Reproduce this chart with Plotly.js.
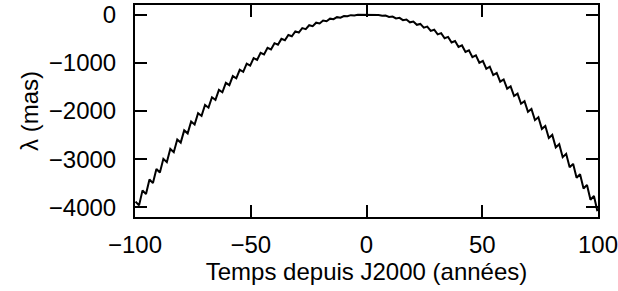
<!DOCTYPE html>
<html>
<head>
<meta charset="utf-8">
<script src="https://cdn.plot.ly/plotly-3.0.1.min.js"></script>
<style>
html,body{margin:0;padding:0;background:#fff;}
#chart{width:618px;height:291px;}
</style>
</head>
<body>
<div id="chart"></div>
<script>
// Time since J2000 (years)
const years = [-99.75, -98.25, -96.75, -95.25, -93.75, -92.25, -90.75, -89.25, -87.75, -86.25,
  -84.75, -83.25, -81.75, -80.25, -78.75, -77.25, -75.75, -74.25, -72.75, -71.25,
  -69.75, -68.25, -66.75, -65.25, -63.75, -62.25, -60.75, -59.25, -57.75, -56.25,
  -54.75, -53.25, -51.75, -50.25, -48.75, -47.25, -45.75, -44.25, -42.75, -41.25,
  -39.75, -38.25, -36.75, -35.25, -33.75, -32.25, -30.75, -29.25, -27.75, -26.25,
  -24.75, -23.25, -21.75, -20.25, -18.75, -17.25, -15.75, -14.25, -12.75, -11.25,
  -9.75, -8.25, -6.75, -5.25, -3.75, -2.25, -0.75,
  0.75, 2.25, 3.75, 5.25, 6.75, 8.25, 9.75, 11.25, 12.75, 14.25,
  15.75, 17.25, 18.75, 20.25, 21.75, 23.25, 24.75, 26.25, 27.75, 29.25,
  30.75, 32.25, 33.75, 35.25, 36.75, 38.25, 39.75, 41.25, 42.75, 44.25,
  45.75, 47.25, 48.75, 50.25, 51.75, 53.25, 54.75, 56.25, 57.75, 59.25,
  60.75, 62.25, 63.75, 65.25, 66.75, 68.25, 69.75, 71.25, 72.75, 74.25,
  75.75, 77.25, 78.75, 80.25, 81.75, 83.25, 84.75, 86.25, 87.75, 89.25,
  90.75, 92.25, 93.75, 95.25, 96.75, 98.25, 99.75];

// lambda (mas)
const lambdaMas = [-3880, -3959, -3647, -3724, -3422, -3496, -3203, -3275, -2992, -3062,
  -2788, -2855, -2591, -2656, -2402, -2464, -2219, -2279, -2044, -2102,
  -1876, -1931, -1715, -1768, -1562, -1612, -1415, -1463, -1276, -1322,
  -1144, -1187, -1019, -1060, -902, -940, -791, -827, -688, -722,
  -592, -623, -503, -532, -422, -448, -347, -371, -280, -302,
  -220, -239, -167, -184, -122, -136, -83, -95, -52, -62,
  -28, -35, -11, -16, -2, -4, 1,
  -1, 0, -9, -6, -25, -19, -48, -39, -78, -67,
  -115, -102, -159, -144, -211, -193, -270, -249, -336, -313,
  -409, -384, -489, -462, -577, -547, -672, -639, -774, -739,
  -883, -846, -999, -960, -1123, -1081, -1254, -1209, -1392, -1345,
  -1537, -1488, -1689, -1638, -1849, -1795, -2016, -1959, -2190, -2131,
  -2371, -2310, -2559, -2496, -2755, -2689, -2958, -2889, -3168, -3097,
  -3385, -3312, -3609, -3534, -3841, -3763, -4080];

const xTickVals = [-100, -50, 0, 50, 100];
const yTickVals = [0, -1000, -2000, -3000, -4000];

const fontFam = '"Liberation Sans", Arial, Helvetica, sans-serif';
const fontSize = 24;

const trace = {
  x: years,
  y: lambdaMas,
  type: 'scatter',
  mode: 'lines',
  line: {color: '#000', width: 2},
  hoverinfo: 'skip'
};

const layout = {
  width: 618,
  height: 291,
  margin: {l: 135, r: 20, t: 5, b: 74},
  paper_bgcolor: '#fff',
  plot_bgcolor: '#fff',
  showlegend: false,
  font: {family: fontFam, size: fontSize, color: '#000'},
  xaxis: {
    range: [-100, 100],
    tickvals: xTickVals,
    ticks: 'inside',
    ticklen: 12,
    tickwidth: 2,
    tickcolor: '#000',
    showline: true,
    linecolor: '#000',
    linewidth: 2,
    mirror: 'ticks',
    showgrid: false,
    zeroline: false,
    ticklabelstandoff: 5,
    ticklabeloverflow: 'allow',
    tickfont: {family: fontFam, size: fontSize, color: '#000'},
    title: {text: 'Temps depuis J2000 (années)', font: {family: fontFam, size: fontSize, color: '#000'}, standoff: 3}
  },
  yaxis: {
    range: [-4200, 200],
    tickvals: yTickVals,
    ticks: 'inside',
    ticklen: 12,
    tickwidth: 2,
    tickcolor: '#000',
    showline: true,
    linecolor: '#000',
    linewidth: 2,
    mirror: 'ticks',
    showgrid: false,
    zeroline: false,
    ticklabelstandoff: 12,
    ticklabeloverflow: 'allow',
    tickfont: {family: fontFam, size: fontSize, color: '#000'},
    title: {text: 'λ (mas)', font: {family: fontFam, size: fontSize, color: '#000'}, standoff: 3}
  }
};

Plotly.newPlot('chart', [trace], layout, {displayModeBar: false, staticPlot: true});
</script>
</body>
</html>
